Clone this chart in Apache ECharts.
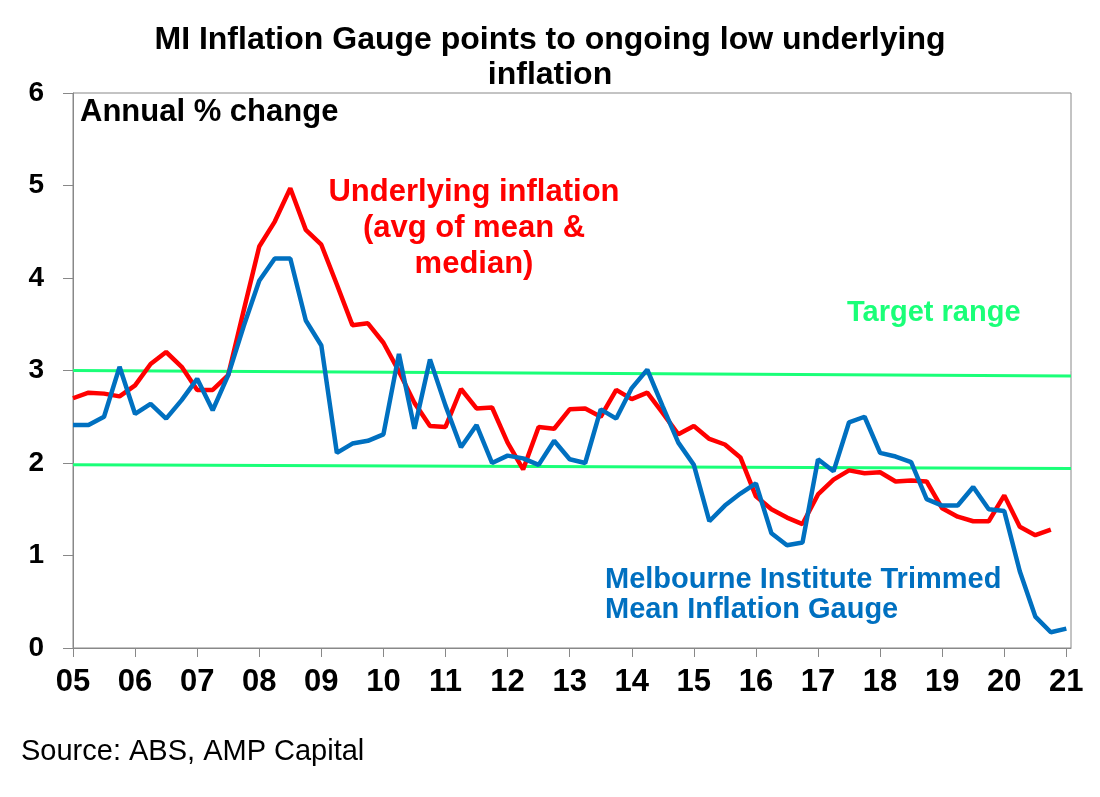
<!DOCTYPE html>
<html>
<head>
<meta charset="utf-8">
<title>MI Inflation Gauge</title>
<script src="https://cdn.jsdelivr.net/npm/echarts@6/dist/echarts.min.js"></script>
<style>
  html, body { margin: 0; padding: 0; background: #fff; }
  #chart { width: 1100px; height: 797px; }
</style>
</head>
<body>
<div id="chart"></div>
<script>
// quarterly, index 0 = start of 2005
var yearLabels = ['05','06','07','08','09','10','11','12','13','14','15','16','17','18','19','20','21'];

// underlying inflation (avg of trimmed mean & weighted median), annual %
var underlying = [
  2.70, 2.76, 2.75, 2.72, 2.84, 3.07, 3.20, 3.04, 2.79, 2.79, 2.95, 3.65,
  4.34, 4.61, 4.97, 4.52, 4.36, 3.93, 3.49, 3.51, 3.30, 2.99, 2.65, 2.40,
  2.39, 2.80, 2.59, 2.60, 2.22, 1.93, 2.39, 2.37, 2.58, 2.59, 2.50, 2.79,
  2.69, 2.76, 2.54, 2.31, 2.40, 2.26, 2.20, 2.06, 1.64, 1.50, 1.41, 1.34,
  1.66, 1.82, 1.92, 1.89, 1.90, 1.80, 1.81, 1.80, 1.51, 1.42, 1.37, 1.37,
  1.65, 1.31, 1.22, 1.28
];

// Melbourne Institute trimmed mean inflation gauge, annual %
var miGauge = [
  2.41, 2.41, 2.50, 3.04, 2.53, 2.64, 2.48, 2.68, 2.91, 2.57, 2.95, 3.48,
  3.97, 4.21, 4.21, 3.54, 3.27, 2.11, 2.21, 2.24, 2.31, 3.18, 2.37, 3.12,
  2.62, 2.17, 2.41, 2.00, 2.08, 2.05, 1.98, 2.24, 2.04, 2.00, 2.58, 2.48,
  2.81, 3.01, 2.61, 2.22, 1.98, 1.37, 1.54, 1.67, 1.78, 1.24, 1.11, 1.14,
  2.04, 1.91, 2.44, 2.50, 2.11, 2.07, 2.01, 1.61, 1.54, 1.54, 1.74, 1.50,
  1.48, 0.83, 0.34, 0.17, 0.21
];

// RBA target band as drawn (start, end)
var targetTop = [3.00, 2.94];
var targetBottom = [1.98, 1.94];

var xMax = 64.3;
var fontFam = '"Liberation Sans", Arial, sans-serif';

function toPairs(arr) {
  return arr.map(function (v, i) { return [i, v]; });
}
function bandPairs(arr) {
  return [[0, arr[0]], [xMax, arr[1]]];
}

var yearTicks = yearLabels.map(function (_, k) { return k * 4; });

var chart = echarts.init(document.getElementById('chart'));

var option = {
  animation: false,
  backgroundColor: '#fff',
  title: {
    text: 'MI Inflation Gauge points to ongoing low underlying\ninflation',
    left: 'center',
    top: 18,
    textStyle: {
      fontFamily: fontFam,
      fontSize: 32,
      fontWeight: 'bold',
      color: '#000',
      lineHeight: 35
    }
  },
  grid: {
    left: 73,
    right: 29,
    top: 93,
    bottom: 149,
    show: true,
    borderColor: '#888',
    borderWidth: 1,
    containLabel: false
  },
  xAxis: {
    type: 'value',
    min: 0,
    max: xMax,
    interval: 4,
    splitLine: { show: false },
    axisLine: { lineStyle: { color: '#888', width: 1 } },
    axisTick: {
      length: 9,
      lineStyle: { color: '#888' },
      customValues: yearTicks
    },
    axisLabel: {
      customValues: yearTicks,
      margin: 19,
      fontFamily: fontFam,
      fontSize: 31,
      fontWeight: 'bold',
      color: '#000',
      formatter: function (v) {
        return yearLabels[Math.round(v / 4)] || '';
      }
    }
  },
  yAxis: {
    type: 'value',
    min: 0,
    max: 6,
    interval: 1,
    splitLine: { show: false },
    axisLine: { show: true, lineStyle: { color: '#888', width: 1 } },
    axisTick: { show: true, length: 10, lineStyle: { color: '#888' } },
    axisLabel: {
      margin: 29,
      fontFamily: fontFam,
      fontSize: 28,
      fontWeight: 'bold',
      color: '#000'
    }
  },
  series: [
    {
      name: 'Target top',
      type: 'line',
      data: bandPairs(targetTop),
      symbol: 'none',
      lineStyle: { color: '#1aff78', width: 3 },
      z: 2
    },
    {
      name: 'Target bottom',
      type: 'line',
      data: bandPairs(targetBottom),
      symbol: 'none',
      lineStyle: { color: '#1aff78', width: 3 },
      z: 2
    },
    {
      name: 'Underlying inflation',
      type: 'line',
      data: toPairs(underlying),
      symbol: 'none',
      lineStyle: { color: '#ff0000', width: 4.5 },
      z: 3
    },
    {
      name: 'MI Inflation Gauge',
      type: 'line',
      data: toPairs(miGauge),
      symbol: 'none',
      lineStyle: { color: '#0070c0', width: 4.5 },
      z: 4
    }
  ],
  graphic: [
    {
      type: 'text',
      x: 80, y: 112,
      style: {
        text: 'Annual % change',
        font: 'bold 31px ' + fontFam,
        fill: '#000',
        verticalAlign: 'middle'
      }
    },
    {
      type: 'text',
      x: 474, y: 174,
      style: {
        text: 'Underlying inflation\n(avg of mean &\nmedian)',
        font: 'bold 31px ' + fontFam,
        fill: '#ff0000',
        align: 'center',
        verticalAlign: 'top',
        lineHeight: 36
      }
    },
    {
      type: 'text',
      x: 847, y: 313,
      style: {
        text: 'Target range',
        font: 'bold 29px ' + fontFam,
        fill: '#1aff78',
        verticalAlign: 'middle'
      }
    },
    {
      type: 'text',
      x: 605, y: 565,
      style: {
        text: 'Melbourne Institute Trimmed\nMean Inflation Gauge',
        font: 'bold 29px ' + fontFam,
        fill: '#0070c0',
        verticalAlign: 'top',
        lineHeight: 30
      }
    },
    {
      type: 'text',
      x: 21, y: 752,
      style: {
        text: 'Source: ABS, AMP Capital',
        font: '29px ' + fontFam,
        fill: '#000',
        verticalAlign: 'middle'
      }
    }
  ]
};

chart.setOption(option);
</script>
</body>
</html>
